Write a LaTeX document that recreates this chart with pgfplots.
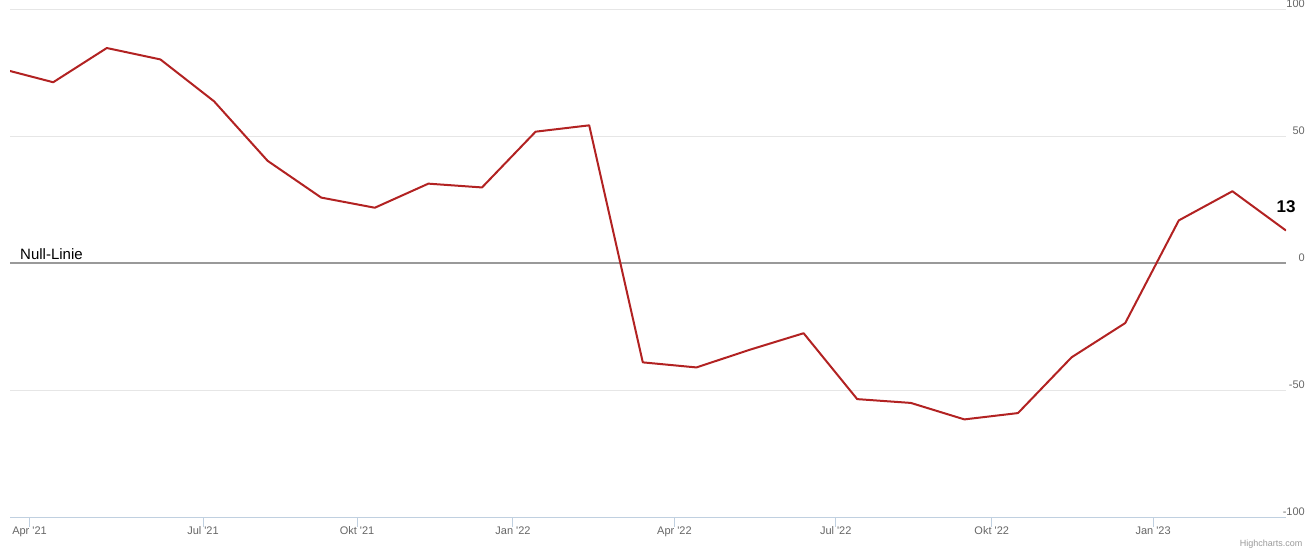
\documentclass[border=0pt]{standalone}
\usepackage{pgfplots}
\pgfplotsset{compat=1.18}
\usepackage{fontspec}
\setmainfont{Liberation Sans}
\definecolor{gridc}{HTML}{E6E6E6}
\definecolor{axisc}{HTML}{C0D0E0}
\definecolor{lbl}{HTML}{666666}
\definecolor{zeroc}{HTML}{999999}
\definecolor{series}{HTML}{B22222}
\begin{document}
\begin{tikzpicture}
\path[use as bounding box] (-10pt,-34pt) rectangle (1306pt,517pt);
\begin{axis}[
  scale only axis, width=1276pt, height=507pt,
  xmin=0.194, xmax=24, ymin=-100, ymax=100,
  axis x line*=bottom, axis y line*=right,
  x axis line style={draw=axisc, line width=1pt, -},
  y axis line style={draw=none, -},
  xtick={0.558,3.795,6.668,9.578,12.59,15.6,18.51,21.52},
  xticklabels={Apr \textquotesingle21, Jul \textquotesingle21, Okt \textquotesingle21, Jan \textquotesingle22, Apr \textquotesingle22, Jul \textquotesingle22, Okt \textquotesingle22, Jan \textquotesingle23},
  ytick={-100,-50,0,50,100},
  yticklabels={-100,-50,0,50,100},
  ymajorgrids, major grid style={draw=gridc, line width=1pt},
  tick align=outside, major tick length=10pt,
  x tick style={draw=axisc, line width=1pt},
  y tick style={draw=none},
  tick label style={font=\fontsize{11}{13}\selectfont, text=lbl},
  xticklabel style={anchor=base, yshift=-7pt},
  yticklabel style={anchor=base east, xshift=9pt, yshift=2pt, inner sep=0pt},
  clip mode=individual,
]
\addplot[zeroc, line width=2pt, forget plot] coordinates {(0.194,0) (24,0)};
\addplot[series, line width=2pt, line join=round, mark=none] coordinates {
(0,77) (1,71.5) (2,85) (3,80.5) (4,64) (5,40.5) (6,26) (7,22) (8,31.5) (9,30)
(10,52) (11,54.5) (12,-39) (13,-41) (14,-34) (15,-27.5) (16,-53.5) (17,-55)
(18,-61.5) (19,-59) (20,-37) (21,-23.5) (22,17) (23,28.5) (24,13)
};
\node[anchor=base west, inner sep=0pt, font=\fontsize{15}{17}\selectfont] at (axis cs:0.194,0) [xshift=10pt,yshift=4pt] {Null-Linie};
\node[anchor=base, font=\bfseries\fontsize{17}{19}\selectfont] at (axis cs:24,13) [yshift=18pt] {13};
\node[anchor=base east, font=\fontsize{9}{11}\selectfont, text=zeroc] at (rel axis cs:1,0) [xshift=20pt, yshift=-29pt] {Highcharts.com};
\end{axis}
\end{tikzpicture}
\end{document}
